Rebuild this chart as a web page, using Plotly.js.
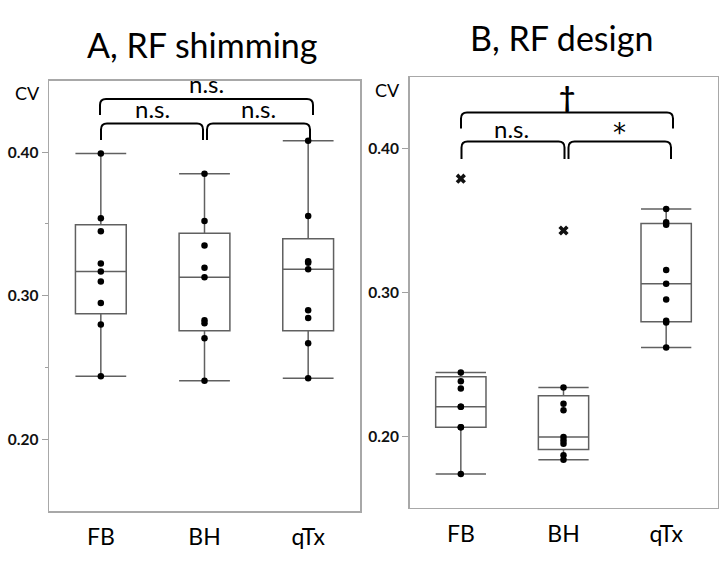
<!DOCTYPE html>
<html>
<head>
<meta charset="utf-8">
<script src="https://cdn.plot.ly/plotly-3.0.1.min.js"></script>
<style>html,body{margin:0;padding:0;background:#fff;}#chart{width:720px;height:566px;}</style>
</head>
<body>
<div id="chart"></div>
<script>
// ---- data ----
const categories = ['FB', 'BH', 'qTx'];
const panelTitles = ['A, RF shimming', 'B, RF design'];

// Panel A: RF shimming (CV per subject)
const shimFB  = [0.399, 0.354, 0.345, 0.3225, 0.317, 0.310, 0.295, 0.280, 0.244];
const shimBH  = [0.385, 0.352, 0.335, 0.3195, 0.313, 0.283, 0.281, 0.2705, 0.241];
const shimQTx = [0.408, 0.3556, 0.324, 0.323, 0.3185, 0.290, 0.2846, 0.267, 0.2426];

// Panel B: RF design (CV per subject)
const designFB  = [0.379, 0.2443, 0.2382, 0.2331, 0.2205, 0.2205, 0.2063, 0.2063, 0.1738];
const designBH  = [0.343, 0.2338, 0.2226, 0.2181, 0.1995, 0.197, 0.1947, 0.1868, 0.1836];
const designQTx = [0.358, 0.3488, 0.347, 0.3156, 0.306, 0.2951, 0.2802, 0.279, 0.2617];

// significance labels
const sigA = {all: 'n.s.', left: 'n.s.', right: 'n.s.'};
const sigB = {all: '\u2020', left: 'n.s.', right: '*'};

// ---- helpers ----
const FONT = 'Lato, "Open Sans", sans-serif';
const W = 720, H = 566;

function median(a) {
  const n = a.length, m = Math.floor(n / 2);
  return n % 2 ? a[m] : (a[m - 1] + a[m]) / 2;
}
// exclusive quartiles (same method as the box traces)
function fences(vals) {
  const s = vals.slice().sort((p, q) => p - q);
  const n = s.length, h = Math.floor(n / 2);
  const lower = s.slice(0, h), upper = s.slice(n % 2 ? h + 1 : h);
  const q1 = median(lower), q3 = median(upper), iqr = q3 - q1;
  return [q1 - 1.5 * iqr, q3 + 1.5 * iqr];
}

const panels = [
  {groups: [shimFB, shimBH, shimQTx], xa: 'x', ya: 'y'},
  {groups: [designFB, designBH, designQTx], xa: 'x2', ya: 'y2'}
];

const traces = [];
panels.forEach(p => {
  const bx = [], by = [], sx = [], sy = [];
  p.groups.forEach((vals, i) => {
    const [lo, hi] = fences(vals);
    vals.forEach(v => {
      bx.push(categories[i]); by.push(v);
      if (v >= lo && v <= hi) { sx.push(categories[i]); sy.push(v); }
    });
  });
  traces.push({
    type: 'box', x: bx, y: by, xaxis: p.xa, yaxis: p.ya,
    quartilemethod: 'exclusive', boxpoints: 'outliers', pointpos: 0, jitter: 0,
    width: 0.49, whiskerwidth: 1,
    line: {color: '#606060', width: 1.5},
    fillcolor: 'rgba(255,255,255,0)',
    marker: {symbol: 'x', size: 9, color: '#111'},
    showlegend: false, hoverinfo: 'y'
  });
  traces.push({
    type: 'scatter', mode: 'markers', x: sx, y: sy, xaxis: p.xa, yaxis: p.ya,
    marker: {color: '#000', size: 6.5},
    showlegend: false, hoverinfo: 'y'
  });
});

// pixel -> paper
const px = x => x / W;
const py = y => 1 - y / H;

function bracket(x1, x2, yTop, yBot, r) {
  r = r || 6;
  const P = (x, y) => px(x) + ',' + py(y);
  return {
    type: 'path', xref: 'paper', yref: 'paper',
    path: 'M' + P(x1, yBot) + ' L' + P(x1, yTop + r) + ' Q' + P(x1, yTop) + ' ' + P(x1 + r, yTop) +
          ' L' + P(x2 - r, yTop) + ' Q' + P(x2, yTop) + ' ' + P(x2, yTop + r) + ' L' + P(x2, yBot),
    line: {color: '#000', width: 2}
  };
}

const shapes = [
  bracket(100, 313, 99, 115),
  bracket(101, 203, 123.5, 140),
  bracket(207, 310, 123.5, 140),
  bracket(461, 673, 112.5, 128.5),
  bracket(461.5, 564.5, 141.5, 159),
  bracket(568.5, 671, 141.5, 159)
];

function ann(text, x, y, size, extra) {
  return Object.assign({
    text: text, xref: 'paper', yref: 'paper', x: px(x), y: py(y),
    xanchor: 'center', yanchor: 'middle', showarrow: false,
    font: {family: FONT, size: size, color: '#000'}
  }, extra || {});
}

const annotations = [
  ann(panelTitles[0], 202, 44, 34),
  ann(panelTitles[1], 561, 37, 34),
  ann('CV', 27, 93, 18),
  ann('CV', 387, 90, 18),
  ann(sigA.all, 207, 84, 24),
  ann(sigA.left, 152, 108, 24),
  ann(sigA.right, 258, 108, 24),
  ann(sigB.all, 567, 96, 28, {font: {family: FONT, size: 28, color: '#000', weight: 'bold'}}),
  ann(sigB.left, 511.5, 128.5, 24),
  ann(sigB.right, 619.5, 133, 30, {font: {family: '"DejaVu Sans", sans-serif', size: 26, color: '#000'}})
];

function xax(d0, d1, anchor) {
  return {
    domain: [d0, d1], anchor: anchor, type: 'category', categoryarray: categories,
    range: [-0.5, 2.5], showline: true, mirror: true, linecolor: '#a8a8a8', linewidth: 1.5,
    ticks: '', showgrid: false, zeroline: false, fixedrange: true,
    tickfont: {family: FONT, size: 23, color: '#000'}, ticklabelstandoff: 5
  };
}
function yax(d0, d1, anchor, minor) {
  const a = {
    domain: [d0, d1], anchor: anchor, range: [0.1503, 0.4497],
    tickmode: 'linear', tick0: 0, dtick: 0.1, tickformat: '.2f',
    showline: true, mirror: true, linecolor: '#a8a8a8', linewidth: 1.5,
    ticks: 'outside', ticklen: 6, tickcolor: '#a0a0a0', tickwidth: 1,
    showgrid: false, zeroline: false, fixedrange: true,
    tickfont: {family: FONT, size: 15.5, color: '#111', weight: 'bold'}
  };
  if (minor) a.minor = {ticks: 'outside', ticklen: 3, dtick: 0.05, tick0: 0, tickcolor: '#a0a0a0', showgrid: false};
  return a;
}

const layout = {
  width: W, height: H,
  margin: {l: 0, r: 0, t: 0, b: 0},
  paper_bgcolor: '#fff', plot_bgcolor: '#fff',
  showlegend: false,
  xaxis: xax(49 / W, 360 / W, 'y'),
  yaxis: yax(1 - 511 / H, 1 - 80.7 / H, 'x', true),
  xaxis2: xax(409.5 / W, 717.5 / W, 'y2'),
  yaxis2: yax(1 - 507.7 / H, 1 - 77 / H, 'x2', false),
  shapes: shapes,
  annotations: annotations
};

Plotly.newPlot('chart', traces, layout, {staticPlot: true, displayModeBar: false});
</script>
</body>
</html>
